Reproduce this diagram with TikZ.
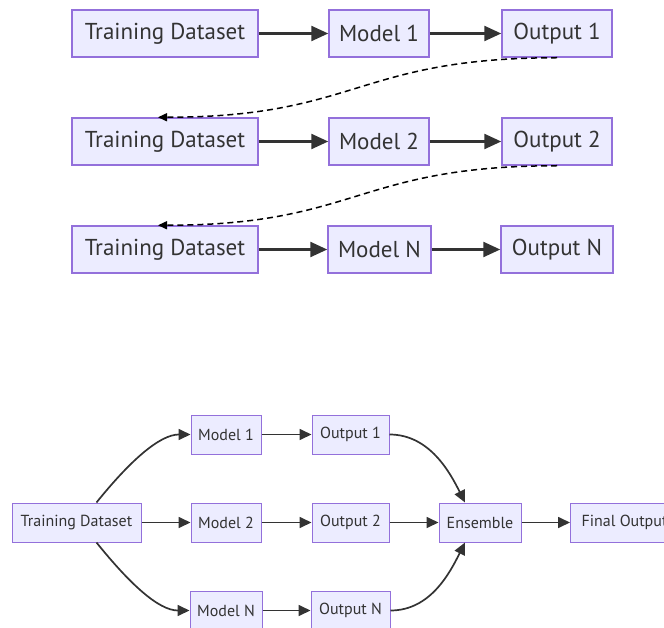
\documentclass[tikz,border=0pt]{standalone}
\usepackage{fontspec}
\setmainfont{PT Sans}
\usetikzlibrary{arrows.meta}
\definecolor{boxfill}{HTML}{ECECFF}
\definecolor{boxline}{HTML}{9370DB}
\definecolor{ink}{HTML}{333333}
\tikzset{%
block/.style={draw=boxline,fill=boxfill,text=ink,rectangle,inner sep=0pt},
bigblock/.style={block,line width=1.5pt,minimum height=47pt,font=\fontsize{23}{25}\selectfont},
smallblock/.style={block,line width=1pt,minimum height=39pt,font=\fontsize{16}{18}\selectfont},
bigflow/.style={draw=ink,line width=2.4pt,-{Triangle[length=17pt,width=15pt]}},
smallflow/.style={draw=ink,line width=1.7pt,-{Triangle[length=12pt,width=11pt]}},
feedback/.style={draw=black,line width=1.5pt,dash pattern=on 6pt off 4pt,-{Triangle[length=9pt,width=8pt]}}
}
\begin{document}
\begin{tikzpicture}[x=1pt,y=-1pt]
  \clip (0,0) rectangle (664,628);

  \node[bigblock,minimum width=186pt] (data1) at (165,33.5) {Training Dataset};
  \node[bigblock,minimum width=100pt] (model1) at (379,33.5) {Model 1};
  \node[bigblock,minimum width=110pt] (out1) at (557,33.5) {Output 1};
  \node[bigblock,minimum width=186pt] (data2) at (165,141.5) {Training Dataset};
  \node[bigblock,minimum width=100pt] (model2) at (379,141.5) {Model 2};
  \node[bigblock,minimum width=110pt] (out2) at (557,141.5) {Output 2};
  \node[bigblock,minimum width=186pt] (data3) at (165,249.5) {Training Dataset};
  \node[bigblock,minimum width=103pt] (model3) at (379.5,249.5) {Model N};
  \node[bigblock,minimum width=112pt] (out3) at (557,249.5) {Output N};

  \draw[bigflow] (data1) -- (model1);
  \draw[bigflow] (model1) -- (out1);
  \draw[bigflow] (data2) -- (model2);
  \draw[bigflow] (model2) -- (out2);
  \draw[bigflow] (data3) -- (model3);
  \draw[bigflow] (model3) -- (out3);
  \draw[feedback] (out1.south) .. controls +(-200,0) and +(200,0) .. ([xshift=-7pt]data2.north);
  \draw[feedback] (out2.south) .. controls +(-200,0) and +(200,0) .. ([xshift=-7pt]data3.north);

  \node[smallblock,minimum width=129pt] (data) at (76.5,522.5) {Training Dataset};
  \node[smallblock,minimum width=70pt] (ma) at (226,434.5) {Model 1};
  \node[smallblock,minimum width=70pt] (mb) at (226,522.5) {Model 2};
  \node[smallblock,minimum width=72pt] (mn) at (226,610.5) {Model N};
  \node[smallblock,minimum width=77pt] (oa) at (350.5,434.5) {Output 1};
  \node[smallblock,minimum width=77pt] (ob) at (350.5,522.5) {Output 2};
  \node[smallblock,minimum width=79pt] (on) at (350.5,610.5) {Output N};
  \node[smallblock,minimum width=82pt] (ens) at (480,522.5) {Ensemble};
  \node[smallblock,minimum width=108pt,anchor=west,inner xsep=9pt] (final) at (570,522.5) {Final Output};

  \draw[smallflow] ([xshift=20pt]data.north) .. controls +(33,-41) and +(-31,0) .. (ma.west);
  \draw[smallflow] (data) -- (mb);
  \draw[smallflow] ([xshift=20pt]data.south) .. controls +(33,41) and +(-31,0) .. (mn.west);
  \draw[smallflow] (ma) -- (oa);
  \draw[smallflow] (mb) -- (ob);
  \draw[smallflow] (mn) -- (on);
  \draw[smallflow] (oa.east) .. controls +(40,0) and +(-15,-30) .. ([xshift=-15pt]ens.north);
  \draw[smallflow] (ob) -- (ens);
  \draw[smallflow] (on.east) .. controls +(40,0) and +(-15,30) .. ([xshift=-15pt]ens.south);
  \draw[smallflow] (ens) -- (final);
\end{tikzpicture}
\end{document}
